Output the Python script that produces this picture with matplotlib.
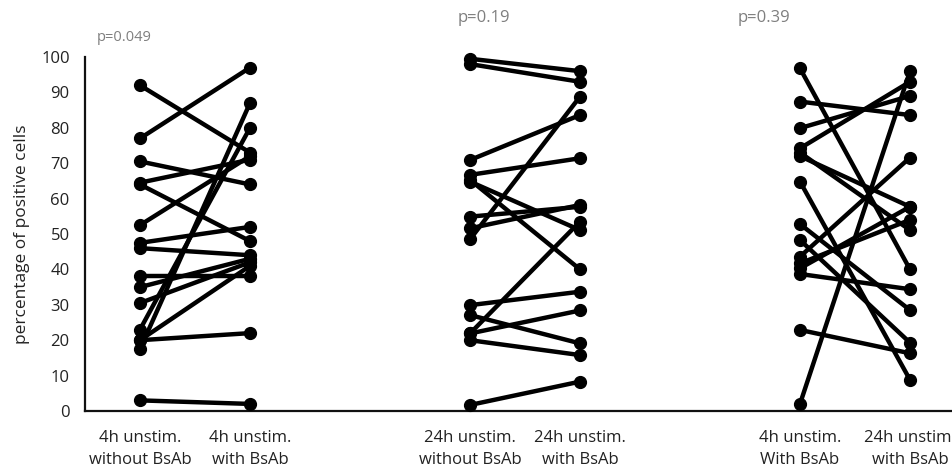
import matplotlib.pyplot as plt

plt.rcParams['font.family'] = ['Open Sans', 'DejaVu Sans']

# category labels (positions 2 and 5 are empty spacer slots)
categories = ["4h unstim.\nwithout BsAb", "4h unstim.\nwith BsAb", "",
              "24h unstim.\nwithout BsAb", "24h unstim.\nwith BsAb", "",
              "4h unstim.\nWith BsAb", "24h unstim.\nwith BsAb"]

# paired samples, group 1: 4h without vs with BsAb
g1_before = [92, 77, 70.5, 64.5, 64, 52.5, 47.5, 46, 38, 35, 30.5, 23, 20, 20, 17.5, 3]
g1_after = [73, 97, 64, 71, 48, 72, 52, 44, 38, 43, 42, 80, 22, 41, 87, 2]

# group 2: 24h without vs with BsAb
g2_before = [99.5, 98, 70.9, 66.7, 64.8, 65.3, 54.9, 51.6, 48.5, 29.9, 27.1, 21.9, 21.9, 20, 1.7]
g2_after = [96, 93, 83.6, 71.4, 51.1, 40, 57.7, 58.2, 88.8, 33.7, 19.1, 53.5, 28.4, 15.8, 8.3]

# group 3: 4h vs 24h with BsAb
g3_before = [96.8, 87.4, 79.9, 74.2, 73, 72, 64.8, 52.8, 48.3, 43.6, 41.7, 40.3, 38.7, 22.9, 2]
g3_after = [40, 83.6, 89, 93, 51.1, 57.7, 8.8, 28.5, 19.3, 71.6, 54, 57.7, 34.4, 16.3, 96]

groups = [(0, g1_before, g1_after), (3, g2_before, g2_after), (6, g3_before, g3_after)]

p_labels = ["p=0.049", "p=0.19", "p=0.39"]
p_pos = [(-0.39, 105.4), (2.89, 111), (5.43, 111)]
p_sizes = [10.5, 12, 12]

fig = plt.figure(figsize=(9.52, 4.70), dpi=100)
ax = fig.add_axes([85 / 952, 59 / 470, 880 / 952, 354 / 470])

for x0, before, after in groups:
    for a, b in zip(before, after):
        ax.plot([x0, x0 + 1], [a, b], '-o', color='black', lw=3.2,
                markersize=8.5, solid_capstyle='round', clip_on=False, zorder=3)

for txt, (px, py), fs in zip(p_labels, p_pos, p_sizes):
    ax.text(px, py, txt, ha='left', va='center', fontsize=fs, color='#7f7f7f',
            clip_on=False)

ax.set_xlim(-0.5, 7.5)
ax.set_ylim(0, 100)
ax.set_yticks(range(0, 101, 10))
ax.set_xticks(range(len(categories)))
ax.set_xticklabels(categories, fontsize=12, color='#222222', linespacing=1.45)
ax.tick_params(axis='y', length=0, pad=11, labelsize=12, labelcolor='#222222')
ax.tick_params(axis='x', length=0, pad=14)
ax.set_ylabel("percentage of positive cells", fontsize=12.5, color='#222222', labelpad=8)

for side in ['top', 'right']:
    ax.spines[side].set_visible(False)
for side in ['left', 'bottom']:
    ax.spines[side].set_linewidth(1.6)
    ax.spines[side].set_color('#111111')

fig.savefig("out.png", dpi=100)
